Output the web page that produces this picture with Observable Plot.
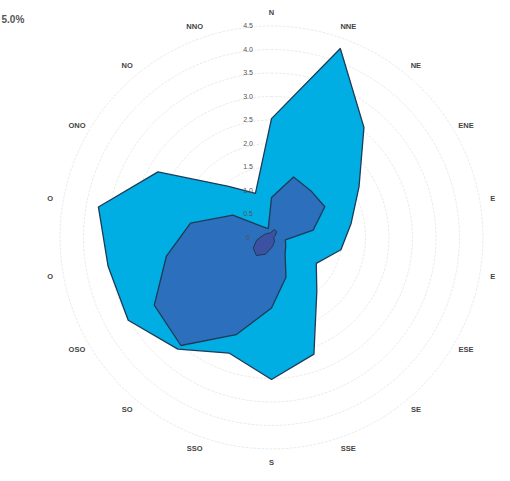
<!DOCTYPE html>
<html>
<head>
<meta charset="utf-8">
<script src="https://cdn.jsdelivr.net/npm/d3@7"></script>
<script src="https://cdn.jsdelivr.net/npm/@observablehq/plot@0.6"></script>
<style>
  html, body { margin: 0; padding: 0; background: #fff; overflow: hidden; }
  #chart svg { display: block; }
</style>
</head>
<body>
<div id="chart"></div>
<script>
// 18 directions, 20° apart, clockwise from north
const directions = ["N","NNE","NE","ENE","E","E","ESE","SE","SSE","S","SSO","SO","OSO","O","O","ONO","NO","NNO"];
const outerValues = [2.53, 4.28, 3.06, 2.15, 1.72, 1.5, 1.1, 1.5, 2.64, 3.02, 2.62, 3.1, 3.52, 3.53, 3.74, 2.79, 1.42, 1.0];
const innerValues = [0.85, 1.37, 1.3, 1.31, 0.9, 0.3, 0.35, 0.45, 0.9, 1.5, 2.2, 3.0, 2.88, 2.27, 1.75, 0.95, 0.3, 0.2];
const coreValues  = [0.12, 0.18, 0.17, 0.1, 0.05, 0.05, 0.06, 0.1, 0.14, 0.22, 0.38, 0.5, 0.45, 0.32, 0.2, 0.15, 0.12, 0.1];
const radialTicks = [0, 0.5, 1.0, 1.5, 2.0, 2.5, 3.0, 3.5, 4.0, 4.5];
const radialTickLabels = ["0", "0.5", "1.0", "1.5", "2.0", "2.5", "3.0", "3.5", "4.0", "4.5"];
const cornerLabel = "5.0%";

const step = 360 / directions.length;
const rad = d => d * Math.PI / 180;
const toPoints = (vals, name) => vals.map((v, i) => ({
  series: name,
  x: v * Math.sin(rad(i * step)),
  y: v * Math.cos(rad(i * step))
}));

const outerPts = toPoints(outerValues, "outer");
const innerPts = toPoints(innerValues, "inner");
const corePts = toPoints(coreValues, "core");

// grid circles from radial ticks
const gridPts = [];
radialTicks.filter(t => t > 0).forEach(t => {
  for (let a = 0; a < 360; a += 3) {
    gridPts.push({ t, x: t * Math.sin(rad(a)), y: t * Math.cos(rad(a)) });
  }
});

const labelR = 4.78;
const dirLabels = directions.map((d, i) => ({
  label: d,
  x: labelR * Math.sin(rad(i * step)),
  y: labelR * Math.cos(rad(i * step))
}));

const tickLabels = radialTicks.map((t, i) => ({ label: radialTickLabels[i], y: t }));

const W = 510, H = 481;
const unit = 47, cx = 271, cy = 237;

const chart = Plot.plot({
  width: W,
  height: H,
  margin: 0,
  x: { domain: [-cx / unit, (W - cx) / unit], axis: null },
  y: { domain: [-(H - cy) / unit, cy / unit], axis: null },
  style: { fontFamily: "Liberation Sans, Arial, sans-serif", background: "#fff" },
  marks: [
    Plot.line(gridPts, { x: "x", y: "y", z: "t", curve: "linear-closed", stroke: "#e6e6e6", strokeWidth: 0.8, strokeDasharray: "2,2" }),
    Plot.line(outerPts, { x: "x", y: "y", curve: "linear-closed", fill: "#00aee3", stroke: "#1d3b57", strokeWidth: 1.3 }),
    Plot.line(innerPts, { x: "x", y: "y", curve: "linear-closed", fill: "#2b6fbd", stroke: "#1d3b57", strokeWidth: 1.3 }),
    Plot.line(corePts, { x: "x", y: "y", curve: "linear-closed", fill: "#3c51a2", stroke: "#1d3b57", strokeWidth: 1 }),
    Plot.text(tickLabels, { x: () => -0.5, y: "y", text: "label", fontSize: 7, fill: "#555" }),
    Plot.text(dirLabels, { x: "x", y: "y", text: "label", fontSize: 7.5, fontWeight: "bold", fill: "#444" }),
    Plot.text([cornerLabel], { frameAnchor: "top-left", dx: 1, dy: 15, textAnchor: "start", fontSize: 10, fontWeight: "bold", fill: "#555" })
  ]
});

document.getElementById("chart").appendChild(chart);
</script>
</body>
</html>
